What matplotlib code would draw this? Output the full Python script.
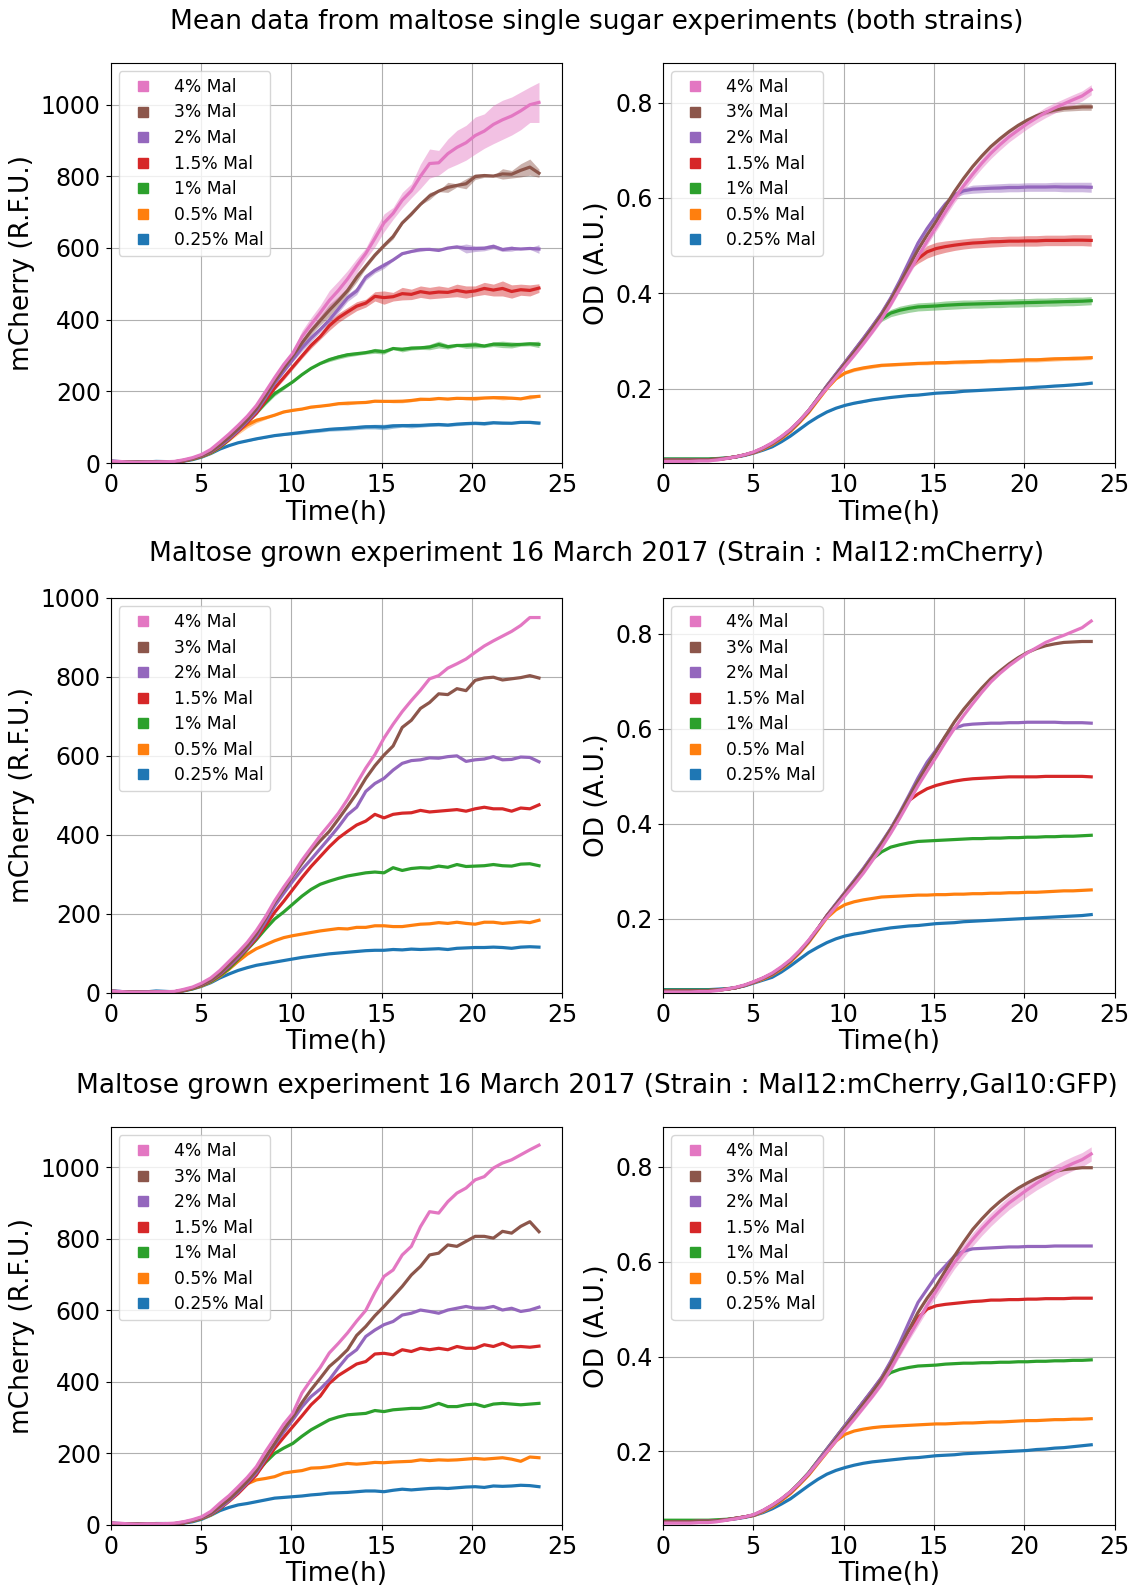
import numpy as np
import matplotlib
matplotlib.use('Agg')
import matplotlib.pyplot as plt
from matplotlib.lines import Line2D

# plate reader samples, 0 to 23.7 h
time_h = np.linspace(0, 23.7, 48)

labels = ['0.25% Mal', '0.5% Mal', '1% Mal', '1.5% Mal', '2% Mal', '3% Mal', '4% Mal']
colors = ['C0', 'C1', 'C2', 'C3', 'C4', 'C5', 'C6']

# --- experiment A : Mal12:mCherry ---
a_mch_025 = [6, 4, 2, 3, 3, 5, 4, 3, 5, 10, 17, 26, 38, 48, 57, 64, 70, 74, 78, 82, 86, 90, 93, 96, 99, 101, 103, 105,
             107, 108, 108, 110, 109, 111, 110, 111, 112, 110, 113, 114, 115, 115, 116, 115, 113, 116, 117, 116]
a_mch_05 = [4, 3, 2, 2, 3, 3, 3, 3, 6, 11, 18, 28, 42, 60, 80, 98, 112, 122, 132, 140, 145, 149, 153, 157, 160, 163,
            162, 166, 166, 170, 170, 168, 168, 171, 174, 175, 178, 176, 179, 176, 174, 179, 179, 176, 178, 180, 178, 184]
a_mch_1 = [5, 3, 2, 3, 2, 3, 3, 3, 6, 11, 19, 29, 44, 62, 85, 110, 135, 162, 187, 205, 225, 245, 262, 275, 283, 290,
           296, 300, 304, 306, 304, 317, 310, 315, 317, 316, 321, 318, 325, 320, 321, 322, 325, 322, 321, 326, 327, 322]
a_mch_15 = [4, 3, 2, 2, 2, 3, 3, 3, 6, 12, 20, 31, 46, 66, 88, 112, 138, 170, 204, 232, 262, 292, 320, 345, 370, 392,
            409, 425, 435, 452, 443, 452, 455, 456, 462, 458, 460, 462, 464, 460, 466, 470, 466, 466, 460, 468, 466, 476]
a_mch_2 = [4, 3, 2, 2, 3, 2, 3, 3, 7, 13, 21, 32, 48, 68, 90, 115, 143, 180, 220, 252, 283, 312, 338, 365, 392, 420,
           451, 470, 510, 530, 543, 564, 581, 588, 590, 595, 594, 598, 600, 586, 590, 592, 598, 590, 591, 597, 596, 585]
a_mch_3 = [5, 3, 2, 2, 2, 3, 2, 3, 7, 13, 22, 33, 50, 72, 95, 120, 150, 188, 229, 262, 296, 328, 359, 385, 409, 440,
           472, 505, 543, 575, 602, 625, 672, 690, 720, 735, 757, 755, 770, 765, 791, 797, 799, 792, 795, 798, 803, 797]
a_mch_4 = [5, 4, 2, 2, 2, 3, 3, 4, 9, 15, 25, 38, 57, 80, 103, 128, 158, 193, 233, 268, 300, 336, 367, 398, 426, 455,
           490, 530, 569, 603, 645, 680, 712, 740, 766, 795, 803, 822, 833, 845, 862, 878, 891, 903, 915, 930, 950, 950]

a_od_025 = [0.051, 0.051, 0.051, 0.051, 0.051, 0.051, 0.052, 0.053, 0.055, 0.059, 0.065, 0.071, 0.077, 0.088, 0.101,
            0.115, 0.129, 0.140, 0.150, 0.158, 0.164, 0.168, 0.171, 0.175, 0.178, 0.181, 0.183, 0.185, 0.186, 0.188,
            0.190, 0.191, 0.192, 0.194, 0.195, 0.196, 0.197, 0.198, 0.199, 0.200, 0.201, 0.202, 0.203, 0.204, 0.205,
            0.206, 0.207, 0.209]
a_od_05 = [0.049, 0.049, 0.049, 0.049, 0.049, 0.049, 0.050, 0.052, 0.055, 0.060, 0.066, 0.073, 0.082, 0.094, 0.109,
           0.128, 0.150, 0.176, 0.202, 0.219, 0.230, 0.236, 0.240, 0.243, 0.246, 0.247, 0.248, 0.249, 0.250, 0.250,
           0.251, 0.251, 0.252, 0.252, 0.253, 0.253, 0.254, 0.254, 0.255, 0.255, 0.256, 0.256, 0.257, 0.258, 0.259,
           0.259, 0.260, 0.261]
a_od_1 = [0.050, 0.050, 0.050, 0.050, 0.050, 0.050, 0.051, 0.052, 0.055, 0.060, 0.067, 0.075, 0.084, 0.097, 0.112,
          0.131, 0.153, 0.179, 0.206, 0.230, 0.254, 0.278, 0.303, 0.326, 0.341, 0.351, 0.356, 0.360, 0.363, 0.364,
          0.365, 0.366, 0.367, 0.368, 0.369, 0.369, 0.370, 0.370, 0.371, 0.371, 0.372, 0.372, 0.373, 0.373, 0.374,
          0.374, 0.375, 0.376]
a_od_15 = [0.049, 0.049, 0.049, 0.049, 0.049, 0.049, 0.050, 0.052, 0.055, 0.060, 0.067, 0.075, 0.084, 0.097, 0.112,
           0.131, 0.153, 0.179, 0.207, 0.231, 0.256, 0.280, 0.305, 0.332, 0.359, 0.389, 0.421, 0.449, 0.463, 0.474,
           0.481, 0.486, 0.490, 0.493, 0.495, 0.496, 0.497, 0.498, 0.499, 0.499, 0.499, 0.499, 0.500, 0.500, 0.500,
           0.500, 0.500, 0.499]
a_od_2 = [0.049, 0.049, 0.049, 0.049, 0.049, 0.049, 0.050, 0.052, 0.055, 0.060, 0.067, 0.075, 0.084, 0.097, 0.112,
          0.131, 0.153, 0.179, 0.207, 0.232, 0.256, 0.281, 0.306, 0.333, 0.361, 0.390, 0.424, 0.460, 0.497, 0.530,
          0.556, 0.584, 0.601, 0.608, 0.610, 0.611, 0.612, 0.612, 0.613, 0.613, 0.614, 0.614, 0.614, 0.614, 0.613,
          0.613, 0.613, 0.612]
a_od_3 = [0.049, 0.049, 0.049, 0.049, 0.049, 0.049, 0.050, 0.052, 0.055, 0.060, 0.067, 0.075, 0.084, 0.097, 0.112,
          0.131, 0.153, 0.179, 0.206, 0.230, 0.254, 0.278, 0.303, 0.330, 0.358, 0.388, 0.421, 0.456, 0.490, 0.522,
          0.553, 0.585, 0.615, 0.641, 0.664, 0.686, 0.706, 0.722, 0.737, 0.750, 0.761, 0.769, 0.775, 0.779, 0.782,
          0.783, 0.784, 0.784]
a_od_4 = [0.046, 0.046, 0.046, 0.046, 0.047, 0.047, 0.049, 0.052, 0.056, 0.061, 0.068, 0.076, 0.086, 0.099, 0.114,
          0.133, 0.155, 0.180, 0.203, 0.226, 0.249, 0.272, 0.296, 0.323, 0.350, 0.380, 0.412, 0.446, 0.480, 0.511,
          0.541, 0.572, 0.601, 0.628, 0.653, 0.677, 0.699, 0.717, 0.733, 0.747, 0.760, 0.771, 0.782, 0.790, 0.797,
          0.805, 0.813, 0.827]

# --- experiment B : Mal12:mCherry,Gal10:GFP ---
b_mch_025 = [6, 4, 3, 3, 3, 4, 4, 3, 5, 9, 16, 27, 40, 49, 56, 60, 65, 70, 75, 77, 79, 81, 84, 86, 89, 90, 91, 93, 95,
             95, 93, 97, 100, 98, 100, 102, 103, 102, 104, 106, 107, 105, 109, 108, 109, 111, 110, 107]
b_mch_05 = [5, 3, 2, 2, 3, 3, 3, 3, 6, 11, 18, 28, 45, 70, 98, 115, 126, 130, 135, 145, 149, 152, 159, 160, 163, 168,
            172, 170, 172, 175, 174, 176, 177, 178, 182, 180, 182, 181, 182, 184, 186, 184, 186, 188, 184, 178, 190, 188]
b_mch_1 = [4, 3, 2, 3, 2, 3, 3, 3, 6, 11, 18, 29, 45, 70, 98, 120, 145, 175, 200, 215, 228, 248, 266, 280, 294, 302,
           308, 310, 312, 320, 317, 322, 324, 326, 326, 331, 340, 331, 331, 336, 338, 331, 338, 340, 338, 336, 338, 340]
b_mch_15 = [5, 3, 2, 2, 3, 2, 3, 3, 6, 12, 19, 30, 46, 66, 88, 114, 140, 178, 214, 245, 275, 305, 336, 360, 396, 418,
            434, 450, 457, 478, 480, 476, 490, 485, 494, 490, 494, 490, 499, 494, 494, 504, 499, 508, 497, 499, 497, 500]
b_mch_2 = [4, 3, 2, 2, 3, 3, 3, 3, 7, 12, 20, 31, 48, 68, 92, 118, 146, 185, 224, 260, 294, 330, 359, 380, 406, 440,
           471, 490, 527, 545, 560, 569, 587, 592, 601, 597, 592, 601, 606, 611, 606, 606, 611, 601, 606, 597, 601, 609]
b_mch_3 = [5, 3, 3, 2, 2, 3, 3, 4, 8, 13, 21, 33, 52, 72, 96, 122, 152, 190, 228, 268, 303, 342, 378, 410, 443, 465,
           490, 530, 555, 585, 611, 639, 667, 699, 723, 755, 760, 783, 779, 793, 807, 807, 802, 821, 816, 835, 848, 820]
b_mch_4 = [6, 5, 3, 2, 3, 3, 4, 5, 9, 15, 23, 38, 61, 82, 107, 133, 163, 205, 243, 282, 313, 369, 406, 440, 481, 508,
           537, 570, 600, 650, 695, 713, 755, 779, 834, 876, 872, 904, 928, 942, 965, 974, 998, 1012, 1021, 1035, 1049,
           1062]

b_od_025 = [0.053, 0.053, 0.053, 0.053, 0.053, 0.053, 0.054, 0.056, 0.058, 0.061, 0.065, 0.071, 0.079, 0.089, 0.100,
            0.114, 0.128, 0.141, 0.152, 0.160, 0.166, 0.171, 0.175, 0.178, 0.180, 0.182, 0.184, 0.186, 0.187, 0.189,
            0.191, 0.192, 0.193, 0.195, 0.196, 0.197, 0.198, 0.199, 0.200, 0.201, 0.202, 0.204, 0.205, 0.207, 0.208,
            0.210, 0.212, 0.214]
b_od_05 = [0.052, 0.052, 0.052, 0.052, 0.053, 0.053, 0.054, 0.056, 0.059, 0.062, 0.065, 0.073, 0.083, 0.096, 0.111,
           0.130, 0.150, 0.174, 0.198, 0.222, 0.236, 0.243, 0.247, 0.250, 0.252, 0.253, 0.254, 0.255, 0.256, 0.257,
           0.258, 0.258, 0.259, 0.260, 0.260, 0.261, 0.262, 0.262, 0.263, 0.264, 0.265, 0.265, 0.266, 0.267, 0.267,
           0.268, 0.268, 0.269]
b_od_1 = [0.055, 0.055, 0.055, 0.055, 0.055, 0.055, 0.056, 0.057, 0.059, 0.062, 0.066, 0.075, 0.086, 0.099, 0.115,
          0.134, 0.155, 0.180, 0.205, 0.230, 0.255, 0.280, 0.304, 0.328, 0.352, 0.366, 0.373, 0.377, 0.380, 0.381,
          0.382, 0.384, 0.385, 0.386, 0.386, 0.387, 0.387, 0.388, 0.388, 0.389, 0.389, 0.390, 0.390, 0.391, 0.391,
          0.392, 0.392, 0.393]
b_od_15 = [0.052, 0.052, 0.052, 0.052, 0.053, 0.053, 0.054, 0.056, 0.059, 0.062, 0.066, 0.075, 0.086, 0.099, 0.114,
           0.133, 0.154, 0.179, 0.204, 0.229, 0.254, 0.279, 0.304, 0.329, 0.355, 0.387, 0.421, 0.456, 0.482, 0.500,
           0.507, 0.510, 0.512, 0.514, 0.516, 0.517, 0.519, 0.519, 0.520, 0.520, 0.521, 0.521, 0.522, 0.522, 0.522,
           0.523, 0.523, 0.523]
b_od_2 = [0.052, 0.052, 0.052, 0.052, 0.053, 0.053, 0.054, 0.056, 0.059, 0.062, 0.066, 0.075, 0.086, 0.099, 0.114,
          0.133, 0.154, 0.179, 0.205, 0.230, 0.255, 0.280, 0.305, 0.330, 0.356, 0.390, 0.429, 0.472, 0.514, 0.542,
          0.570, 0.591, 0.612, 0.622, 0.627, 0.628, 0.629, 0.630, 0.631, 0.631, 0.632, 0.632, 0.632, 0.633, 0.633,
          0.633, 0.633, 0.633]
b_od_3 = [0.052, 0.052, 0.052, 0.052, 0.053, 0.053, 0.054, 0.056, 0.059, 0.062, 0.066, 0.075, 0.086, 0.099, 0.114,
          0.132, 0.152, 0.176, 0.201, 0.226, 0.251, 0.275, 0.300, 0.325, 0.352, 0.384, 0.419, 0.456, 0.493, 0.523,
          0.549, 0.581, 0.612, 0.641, 0.668, 0.690, 0.710, 0.727, 0.742, 0.755, 0.766, 0.776, 0.784, 0.790, 0.794,
          0.796, 0.798, 0.798]
b_od_4 = [0.049, 0.049, 0.049, 0.049, 0.050, 0.050, 0.052, 0.055, 0.058, 0.062, 0.067, 0.076, 0.087, 0.100, 0.115,
          0.133, 0.153, 0.176, 0.199, 0.222, 0.245, 0.268, 0.292, 0.316, 0.342, 0.373, 0.408, 0.442, 0.475, 0.508,
          0.538, 0.569, 0.598, 0.623, 0.647, 0.669, 0.689, 0.707, 0.724, 0.738, 0.752, 0.765, 0.777, 0.788, 0.798,
          0.807, 0.815, 0.827]
# replicate spread of the 4% wells (OD)
b_od_4_sd = [0.002, 0.002, 0.002, 0.002, 0.002, 0.002, 0.002, 0.002, 0.002, 0.002, 0.002, 0.002, 0.002, 0.002, 0.003,
             0.003, 0.003, 0.003, 0.004, 0.004, 0.004, 0.004, 0.004, 0.004, 0.005, 0.006, 0.007, 0.008, 0.010, 0.011,
             0.012, 0.013, 0.013, 0.014, 0.014, 0.014, 0.014, 0.014, 0.014, 0.014, 0.014, 0.014, 0.015, 0.015, 0.015,
             0.015, 0.015, 0.015]

a_mch = [a_mch_025, a_mch_05, a_mch_1, a_mch_15, a_mch_2, a_mch_3, a_mch_4]
a_od = [a_od_025, a_od_05, a_od_1, a_od_15, a_od_2, a_od_3, a_od_4]
b_mch = [b_mch_025, b_mch_05, b_mch_1, b_mch_15, b_mch_2, b_mch_3, b_mch_4]
b_od = [b_od_025, b_od_05, b_od_1, b_od_15, b_od_2, b_od_3, b_od_4]

zero = np.zeros(len(time_h))
a_sd = [zero] * 7
b_sd_od = [zero] * 6 + [np.array(b_od_4_sd)]


def combine(set_a, set_b, sd_a, sd_b):
    '''mean of both strains, spread = pooled deviation'''
    means, sds = [], []
    for ya, yb, sa, sb in zip(set_a, set_b, sd_a, sd_b):
        ya, yb = np.array(ya, float), np.array(yb, float)
        means.append((ya + yb) / 2)
        sds.append(np.sqrt(((ya - yb) / 2) ** 2 + (sa ** 2 + sb ** 2) / 2))
    return means, sds


mean_mch, sd_mch = combine(a_mch, b_mch, a_sd, a_sd)
mean_od, sd_od = combine(a_od, b_od, a_sd, b_sd_od)

rows = [
    ('Mean data from maltose single sugar experiments (both strains)',
     (mean_mch, sd_mch), (mean_od, sd_od), 1117, (0.044, 0.884)),
    ('Maltose grown experiment 16 March 2017 (Strain : Mal12:mCherry)',
     (a_mch, a_sd), (a_od, a_sd), 1000, (0.044, 0.876)),
    ('Maltose grown experiment 16 March 2017 (Strain : Mal12:mCherry,Gal10:GFP)',
     (b_mch, a_sd), (b_od, b_sd_od), 1113, (0.045, 0.884)),
]

fig = plt.figure(figsize=(11.37, 15.89), dpi=100)

row_bottoms = [0.7086, 0.3751, 0.0403]
row_heights = [0.2520, 0.2487, 0.2505]
title_y = [1 - 22 / 1589, 1 - 554 / 1589, 1 - 1086 / 1589]

handles = [Line2D([], [], marker='s', linestyle='', color=c, markersize=6.5) for c in colors]


def draw_panel(ax, series, sds, ylabel):
    for y, s, c in zip(series, sds, colors):
        y = np.array(y, float)
        s = np.array(s, float)
        if s.max() > 0:
            ax.fill_between(time_h, y - s, y + s, color=c, alpha=0.45, linewidth=0)
        ax.plot(time_h, y, color=c, lw=2.3)
    ax.set_xlim(0, 25)
    ax.set_xticks(range(0, 26, 5))
    ax.grid(True)
    ax.set_axisbelow(True)
    ax.tick_params(labelsize=17)
    ax.set_xlabel('Time(h)', fontsize=19, labelpad=2)
    ax.set_ylabel(ylabel, fontsize=19)
    ax.legend(handles[::-1], labels[::-1], loc='upper left', fontsize=12.3, labelspacing=0.44)


for i, (title, (mch, mch_sd), (od, od_sd), mch_top, od_lim) in enumerate(rows):
    ax1 = fig.add_axes([0.0972, row_bottoms[i], 0.3975, row_heights[i]])
    draw_panel(ax1, mch, mch_sd, 'mCherry (R.F.U.)')
    ax1.set_ylim(0, mch_top)
    ax1.set_yticks(range(0, mch_top + 1, 200))

    ax2 = fig.add_axes([0.5829, row_bottoms[i], 0.3975, row_heights[i]])
    draw_panel(ax2, od, od_sd, 'OD (A.U.)')
    ax2.set_ylim(od_lim)
    ax2.set_yticks([0.2, 0.4, 0.6, 0.8])

    fig.text(0.525, title_y[i], title, ha='center', va='center', fontsize=19)

fig.savefig('out.png', dpi=100)
